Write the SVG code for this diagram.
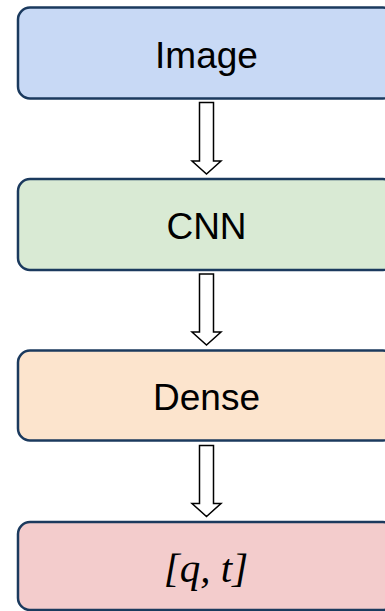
<svg xmlns="http://www.w3.org/2000/svg" width="385" height="611" viewBox="0 0 385 611">
<style>
.box{stroke:#1B3A5E;stroke-width:2.5}
.lbl{font-family:"Liberation Sans",Arial,sans-serif;font-size:37px;fill:#000;text-anchor:middle}
.math{font-family:"Liberation Serif","Times New Roman",serif;font-style:italic;font-size:41px;fill:#000;text-anchor:middle}
.arr{fill:#fff;stroke:#000;stroke-width:1.5;stroke-linejoin:miter}
</style>
<rect width="385" height="611" fill="#fff"/>
<g id="connectors">
<polygon class="arr" points="199.5,102.5 213.5,102.5 213.5,161 221,161 206.5,174 192,161 199.5,161"/>
<polygon class="arr" points="199.5,274 213.5,274 213.5,332 221,332 206.5,345 192,332 199.5,332"/>
<polygon class="arr" points="199.5,445.5 213.5,445.5 213.5,503.5 221,503.5 206.5,516.5 192,503.5 199.5,503.5"/>
</g>
<g id="node-image">
<rect class="box" x="18" y="7.5" width="377" height="91" rx="12" fill="#C8D9F5"/>
<text class="lbl" x="206.5" y="68">Image</text>
</g>
<g id="node-cnn">
<rect class="box" x="18" y="179" width="377" height="91" rx="12" fill="#D9EAD4"/>
<text class="lbl" x="206.5" y="238.5">CNN</text>
</g>
<g id="node-dense">
<rect class="box" x="18" y="350.5" width="377" height="90" rx="12" fill="#FCE4CD"/>
<text class="lbl" x="206.5" y="410">Dense</text>
</g>
<g id="node-output">
<rect class="box" x="18" y="522" width="377" height="88" rx="12" fill="#F3CCCC"/>
<text class="math" x="206" y="582">[q, t]</text>
</g>
</svg>
